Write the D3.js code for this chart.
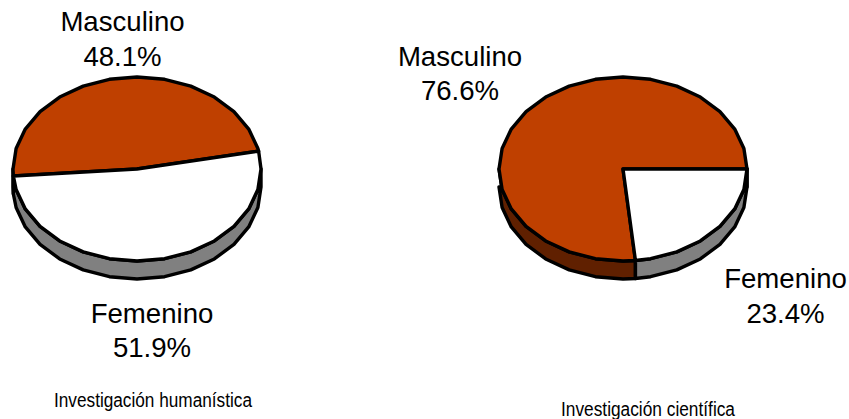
<!DOCTYPE html>
<html><head><meta charset="utf-8">
<script src="https://cdnjs.cloudflare.com/ajax/libs/d3/7.9.0/d3.min.js"></script>
<style>html,body{margin:0;background:#fff}svg{display:block;font-family:"Liberation Sans",Arial,sans-serif}</style>
</head><body><svg id="c" width="849" height="419"></svg>
<script>
const categories = ["Masculino", "Femenino"];
const humanistica = [48.1, 51.9];
const cientifica = [76.6, 23.4];
const titles = ["Investigación humanística", "Investigación científica"];

const svg = d3.select("#c");
const topColors = ["#BF4000", "#FFFFFF"];
const wallColors = ["#602000", "#808080"];
const fmt = v => v.toFixed(1) + "%";

function drawPie(values, o) {
  const x = d3.scaleLinear().domain([-1, 1]).range([o.cx - 124, o.cx + 124]);
  const y = d3.scaleLinear().domain([-1, 1]).range([o.cy + 92, o.cy - 92]);
  const depth = 18, step = Math.PI / 14;
  const pie = d3.pie().sort(null).startAngle(o.start).endAngle(o.start - 2 * Math.PI);
  const slices = pie(values);
  const line = d3.line().x(d => d[0]).y(d => d[1]);
  const g = svg.append("g").attr("stroke", "#000").attr("stroke-width", 3.4).attr("stroke-linejoin", "round");
  const samples = s => {
    const a = [s.startAngle];
    const n = Math.ceil(s.startAngle / step);
    for (let t = (n - 1) * step; t > s.endAngle + 0.02; t -= step) if (t < s.startAngle - 0.02) a.push(t);
    a.push(s.endAngle);
    return a;
  };
  // side walls
  slices.forEach((s, i) => {
    const front = samples(s).filter(a => Math.cos(a) <= 0.0001);
    if (front.length < 2) return;
    const upper = front.map(a => [x(Math.sin(a)), y(Math.cos(a))]);
    const lower = front.map(a => [x(Math.sin(a)), y(Math.cos(a)) + depth]).reverse();
    g.append("path").attr("d", line(upper.concat(lower)) + "Z").attr("fill", wallColors[i]);
  });
  // top faces
  slices.forEach((s, i) => {
    const rim = samples(s).map(a => [x(Math.sin(a)), y(Math.cos(a))]);
    g.append("path").attr("d", line([[x(0), y(0)], ...rim]) + "Z").attr("fill", topColors[i]);
  });
}

function label(lines, xp, yp, size, len) {
  lines.forEach((t, i) => {
    const el = svg.append("text").attr("x", xp).attr("y", yp[i])
      .attr("text-anchor", "middle").attr("font-size", size).attr("fill", "#000").text(t);
    if (len) el.attr("textLength", len).attr("lengthAdjust", "spacingAndGlyphs");
  });
}

drawPie(humanistica, {cx: 137, cy: 169, start: Math.PI / 2 - 11.2 * Math.PI / 180});
drawPie(cientifica, {cx: 623, cy: 169, start: Math.PI / 2});

label([categories[0], fmt(humanistica[0])], 122.5, [31, 66], 27.6);
label([categories[1], fmt(humanistica[1])], 152, [323, 357], 27.6);
label([categories[0], fmt(cientifica[0])], 460, [66, 100], 27.6);
label([categories[1], fmt(cientifica[1])], 785.5, [288, 323], 27.6);
label([titles[0]], 153, [407], 19.5, 198);
label([titles[1]], 648, [416], 19.5, 174);
</script></body></html>
